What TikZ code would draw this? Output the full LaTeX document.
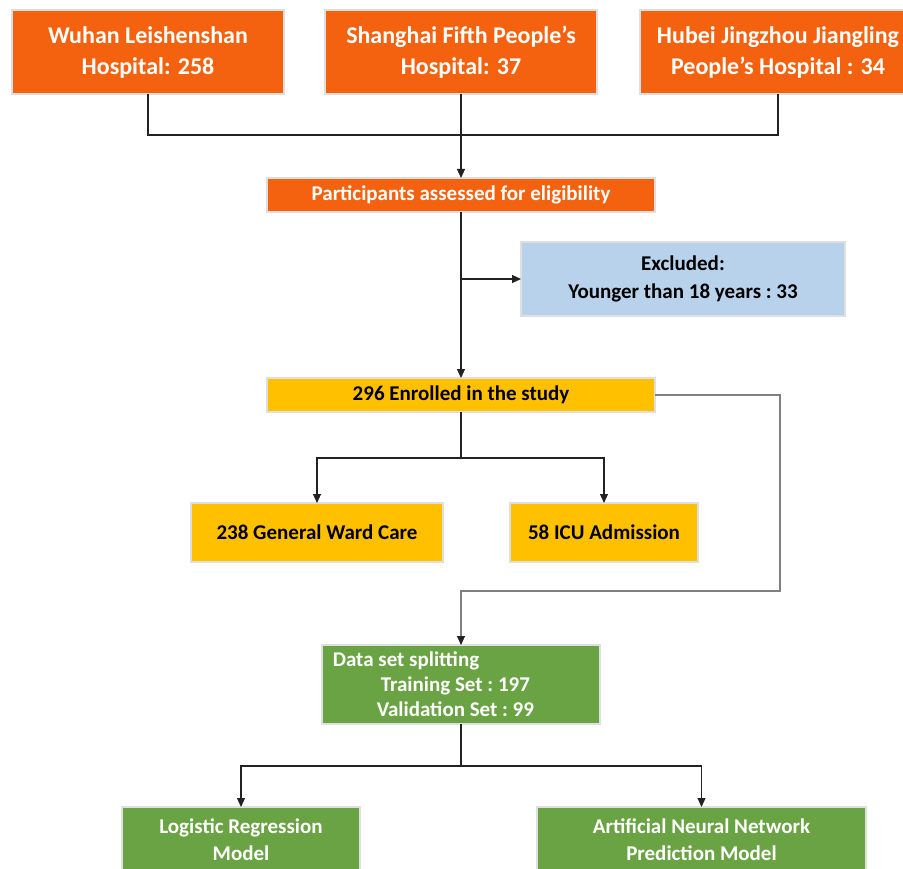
\documentclass[tikz,border=0pt]{standalone}
\usepackage{fontspec}
\setmainfont{Carlito}
\usepackage{tikz}
\usetikzlibrary{arrows.meta, positioning}
\definecolor{flowred}{HTML}{F5620F}
\definecolor{flowyellow}{HTML}{FFC000}
\definecolor{flowblue}{HTML}{B8D2EC}
\definecolor{flowgreen}{HTML}{6AA344}
\definecolor{flowline}{HTML}{222222}

\begin{document}
\begin{tikzpicture}[x=1pt, y=-1pt,
  font=\fontsize{21}{27}\selectfont\bfseries,
  box/.style={rectangle, draw=gray!25, line width=1.2pt, align=center,
    inner sep=2pt, outer sep=0pt},
  source/.style={box, fill=flowred, text=white, minimum width=272pt,
    minimum height=84pt, font=\fontsize{24}{31}\selectfont\bfseries},
  screen/.style={box, fill=flowred, text=white, minimum width=388pt, minimum height=34pt},
  cohort/.style={box, fill=flowyellow, text=black},
  drop/.style={box, fill=flowblue, text=black, minimum width=324pt, minimum height=74pt},
  model/.style={box, fill=flowgreen, text=white},
  link/.style={flowline, line width=1.1pt},
  arr/.style={-{Triangle[length=9pt, width=8pt, color=flowline]}, flowline, line width=1.1pt}]
  \useasboundingbox (0,0) rectangle (903,869);
  % sources
  \node[source] (wuhan) at (148,52) {Wuhan Leishenshan\\Hospital: 258};
  \node[source] (shanghai) at (461,52) {Shanghai Fifth People’s\\Hospital: 37};
  \node[source, minimum width=276pt] (hubei) at (778,52) {Hubei Jingzhou Jiangling\\People’s Hospital : 34};
  \node[screen] (particip) at (461,195) {Participants assessed for eligibility};
  \node[drop] (excl) at (683,279) {Excluded:\\[1pt]Younger than 18 years~:~33};
  \node[cohort, minimum width=388pt, minimum height=34pt] (enrol) at (461,395) {296 Enrolled in the study};
  \node[cohort, minimum width=252pt, minimum height=59pt] (ward) at (317,532.5) {238 General Ward Care};
  \node[cohort, minimum width=188pt, minimum height=59pt] (icu) at (604,532.5) {58 ICU Admission};
  \node[model, minimum width=278pt, minimum height=79pt, align=left,
    font=\fontsize{21}{25}\selectfont\bfseries] (split) at (461,684.5)
    {Data set splitting\hspace*{110pt}\\\hspace*{48pt}Training Set~:~197\\\hspace*{44pt}Validation Set~:~99};
  \node[model, minimum width=238pt, minimum height=66pt] (logit) at (241,840) {Logistic Regression\\Model};
  \node[model, minimum width=329pt, minimum height=66pt] (ann) at (701.5,840) {Artificial Neural Network\\Prediction Model};
  % connectors
  \coordinate (merge) at (461,135);
  \coordinate (fork1) at (461,458);
  \coordinate (loop) at (780,591);
  \coordinate (fork2) at (461,766);
  \draw[link] (wuhan.south) |- (merge) -| (hubei.south);
  \draw[arr] (shanghai.south) -- (particip.north);
  \draw[arr] (particip.south) -- (enrol.north);
  \draw[arr] (particip.south |- excl.west) -- (excl.west);
  \draw[arr] (enrol.south) -- (fork1) -| (ward.north);
  \draw[arr] (fork1) -| (icu.north);
  \draw[arr, draw=gray] (enrol.east) -| (loop) -| (split.north);
  \draw[arr] (split.south) -- (fork2) -| (logit.north);
  \draw[arr] (fork2) -| (ann.north);
\end{tikzpicture}
\end{document}
